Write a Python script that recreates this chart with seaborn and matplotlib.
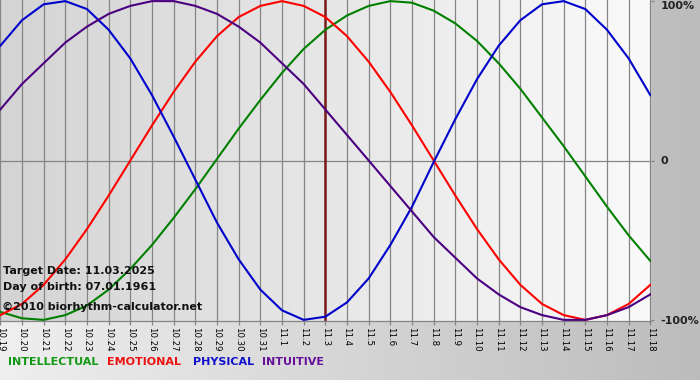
import numpy as np
import pandas as pd
import matplotlib
matplotlib.use("Agg")
import matplotlib.pyplot as plt
from matplotlib.colors import LinearSegmentedColormap
import seaborn as sns

# ---- data ----
dates = ["10.19", "10.20", "10.21", "10.22", "10.23", "10.24", "10.25", "10.26",
         "10.27", "10.28", "10.29", "10.30", "10.31", "11.1", "11.2", "11.3",
         "11.4", "11.5", "11.6", "11.7", "11.8", "11.9", "11.10", "11.11",
         "11.12", "11.13", "11.14", "11.15", "11.16", "11.17", "11.18"]
intellectual = [-95, -99, -100, -97, -91, -81, -68, -53, -36, -18, 1, 20, 38, 55, 70, 82,
                91, 97, 100, 99, 94, 86, 75, 61, 45, 27, 9, -10, -29, -47, -63]
emotional = [-97, -90, -78, -62, -43, -22, 0, 22, 43, 62, 78, 90, 97, 100, 97, 90,
             78, 62, 43, 22, 0, -22, -43, -62, -78, -90, -97, -100, -97, -90, -78]
physical = [72, 88, 98, 100, 95, 82, 64, 41, 15, -12, -39, -62, -81, -94, -100, -98,
            -89, -74, -53, -29, -1, 26, 51, 72, 88, 98, 100, 95, 82, 64, 41]
intuitive = [32, 48, 61, 74, 84, 92, 97, 100, 100, 97, 92, 84, 74, 61, 48, 32,
             16, 0, -16, -32, -48, -61, -74, -84, -92, -97, -100, -100, -97, -92, -84]
series_names = ["INTELLECTUAL", "EMOTIONAL", "PHYSICAL", "INTUITIVE"]
target_label = "11.3"
y_ticks = [-100, 0, 100]
y_ticklabels = ["-100%", "0", "100%"]

line_colors = {"INTELLECTUAL": "#008000", "EMOTIONAL": "#ff0000",
               "PHYSICAL": "#0000cc", "INTUITIVE": "#4b0082"}
legend_colors = {"INTELLECTUAL": "#119911", "EMOTIONAL": "#ee1111",
                 "PHYSICAL": "#1111cc", "INTUITIVE": "#661199"}

rows = []
for name, vals in zip(series_names, [intellectual, emotional, physical, intuitive]):
    for i, v in enumerate(vals):
        rows.append({"day": i, "value": v, "series": name})
df = pd.DataFrame(rows)

plt.rcParams["font.family"] = ["DejaVu Sans"]

W, H = 700, 380
fig = plt.figure(figsize=(W / 100, H / 100), dpi=100)

# figure background gradient
bgax = fig.add_axes([0, 0, 1, 1], zorder=-10)
cm_bg = LinearSegmentedColormap.from_list("bg", ["#efefef", "#bcbcbc"])
bgax.imshow(np.linspace(0, 1, 256)[None, :], cmap=cm_bg, aspect="auto",
            extent=(0, 1, 0, 1))
bgax.set_axis_off()

# plot area
ax = fig.add_axes([0 / W, 59 / H, 651 / W, 321 / H])
ax.set_xlim(-0.015, 30.03)
ax.set_ylim(-100.7, 100.7)
cm_pl = LinearSegmentedColormap.from_list("pl", ["#d4d4d4", "#fafafa"])
ax.imshow(np.linspace(0, 1, 256)[None, :], cmap=cm_pl, aspect="auto",
          extent=(-0.015, 30.03, -100.7, 100.7), zorder=0)
ax.set_facecolor("none")

# grid
for i in range(len(dates)):
    ax.axvline(i, color="#858585", lw=0.9, zorder=1)
ax.axhline(0, color="#858585", lw=0.9, zorder=1)

# target date line
ax.axvline(dates.index(target_label), color="#7a1c1c", lw=1.8, zorder=2)

sns.lineplot(data=df, x="day", y="value", hue="series", hue_order=series_names,
             palette=line_colors, legend=False, linewidth=1.5, ax=ax, zorder=3)
for ln in ax.get_lines():
    ln.set_solid_joinstyle("round")

ax.set_xlabel("")
ax.set_ylabel("")
ax.set_xticks(range(len(dates)))
ax.set_xticklabels(dates, rotation=270, fontsize=6.2, color="#000000")
ax.tick_params(axis="x", length=3, width=0.9, color="#858585", pad=1.5)
ax.yaxis.tick_right()
ax.set_yticks(y_ticks)
ax.set_yticklabels(y_ticklabels, fontsize=8, fontweight="bold", color="#222222")
ax.tick_params(axis="y", length=2, width=0.9, color="#858585", pad=5)
for lbl in ax.get_yticklabels():
    if lbl.get_text() == "100%":
        lbl.set_va("top")
for s in ["top", "left", "right"]:
    ax.spines[s].set_visible(False)
ax.spines["bottom"].set_color("#858585")
ax.spines["bottom"].set_linewidth(0.9)

# info texts
fig.text(3 / W, 1 - 271 / H, "Target Date: 11.03.2025", fontsize=8, fontweight="bold",
         color="#111111", va="center", ha="left")
fig.text(3 / W, 1 - 287 / H, "Day of birth: 07.01.1961", fontsize=8, fontweight="bold",
         color="#111111", va="center", ha="left")
fig.text(2 / W, 1 - 307 / H, "\u00a92010 biorhythm-calculator.net", fontsize=8,
         fontweight="bold", color="#111111", va="center", ha="left")

# legend texts
legend_x = [8, 107, 193, 262]
for name, x in zip(series_names, legend_x):
    fig.text(x / W, 1 - 362 / H, name, fontsize=8, fontweight="bold",
             color=legend_colors[name], va="center", ha="left")

fig.savefig("out.png", dpi=100)
